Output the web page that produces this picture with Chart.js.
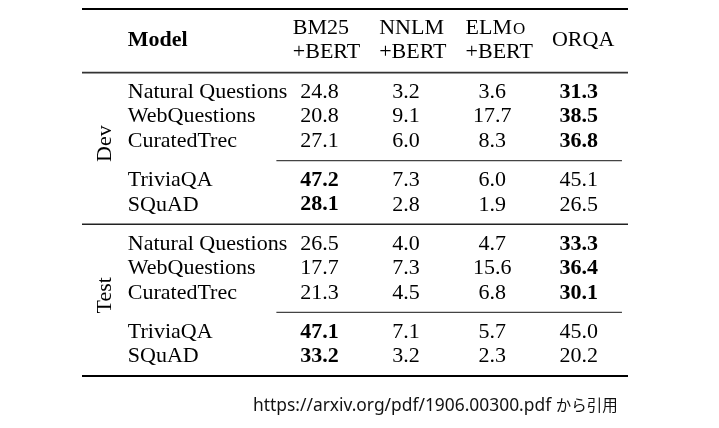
<!DOCTYPE html>
<html>
<head>
<meta charset="utf-8">
<script src="https://cdn.jsdelivr.net/npm/chart.js@4/dist/chart.umd.min.js"></script>
<style>
  html, body { margin: 0; padding: 0; background: #fff; }
  #wrap { position: relative; width: 719px; height: 428px; }
  #cap { position: absolute; left: 253px; top: 392px; font: 17.4px "Noto Sans", "Noto Sans CJK JP", sans-serif; color: #111; white-space: nowrap; }
  #cap span { font: 15.5px "Noto Sans CJK JP", sans-serif; }
</style>
</head>
<body>
<div id="wrap">
  <canvas id="c" width="719" height="428"></canvas>
  <div id="cap">https://arxiv.org/pdf/1906.00300.pdf <span>から引用</span></div>
</div>
<script>
// ---- data ----
const groups = ['Dev', 'Test'];
const tasks = ['Natural Questions', 'WebQuestions', 'CuratedTrec', 'TriviaQA', 'SQuAD'];
const modelHeader = ['Model'];
const modelLine1 = ['BM25', 'NNLM', 'ELMo', 'ORQA'];
const modelLine2 = ['+BERT', '+BERT', '+BERT', ''];
const bm25Dev  = [24.8, 20.8, 27.1, 47.2, 28.1];
const nnlmDev  = [3.2, 9.1, 6.0, 7.3, 2.8];
const elmoDev  = [3.6, 17.7, 8.3, 6.0, 1.9];
const orqaDev  = [31.3, 38.5, 36.8, 45.1, 26.5];
const bm25Test = [26.5, 17.7, 21.3, 47.1, 33.2];
const nnlmTest = [4.0, 7.3, 4.5, 7.1, 3.2];
const elmoTest = [4.7, 15.6, 6.8, 5.7, 2.3];
const orqaTest = [33.3, 36.4, 30.1, 45.0, 20.2];

const valuesByGroup = [
  [bm25Dev, nnlmDev, elmoDev, orqaDev],
  [bm25Test, nnlmTest, elmoTest, orqaTest]
];

// ---- layout (row/column units) ----
const BLOCK_GAP = 0.6;   // extra space where a rule separates blocks
const HALF = 0.8;        // rule distance from neighbouring row
function rowPosG(g, r) { return g * (tasks.length + 2 * BLOCK_GAP) + r + (r >= 3 ? BLOCK_GAP : 0); }

const SERIF = '"Liberation Serif", "Times New Roman", serif';

const datasets = [];
for (let c = 0; c < 4; c++) {
  const pts = [];
  for (let g = 0; g < groups.length; g++) {
    for (let r = 0; r < tasks.length; r++) {
      const rowVals = valuesByGroup[g].map(col => col[r]);
      const v = valuesByGroup[g][c][r];
      pts.push({ x: c, y: rowPosG(g, r), v: v, bold: v === Math.max(...rowVals) });
    }
  }
  datasets.push({ label: modelLine1[c], data: pts, pointRadius: 0, showLine: false });
}

const tablePlugin = {
  id: 'table',
  afterDatasetsDraw(chart) {
    const { ctx, scales: { x, y } } = chart;
    ctx.save();
    ctx.fillStyle = '#000';
    ctx.textBaseline = 'middle';
    // values
    chart.data.datasets.forEach((ds, di) => {
      const meta = chart.getDatasetMeta(di);
      meta.data.forEach((el, i) => {
        const p = ds.data[i];
        ctx.font = (p.bold ? 'bold ' : '') + '22px ' + SERIF;
        ctx.textAlign = 'center';
        ctx.fillText(p.v.toFixed(1), el.x, el.y);
      });
    });
    // header
    ctx.textAlign = 'left';
    ctx.font = 'bold 22px ' + SERIF;
    ctx.fillText(modelHeader[0], x.getPixelForValue(-2.22), y.getPixelForValue(-2.12));
    ctx.font = '22px ' + SERIF;
    modelLine1.forEach((t, c) => {
      const px = x.getPixelForValue(c - 0.31);
      if (modelLine2[c]) {
        if (t === 'ELMo') {
          ctx.fillText('ELM', px, y.getPixelForValue(-2.62));
          const w = ctx.measureText('ELM').width;
          ctx.font = '17px ' + SERIF;
          ctx.fillText('O', px + w + 1, y.getPixelForValue(-2.57));
          ctx.font = '22px ' + SERIF;
        } else {
          ctx.fillText(t, px, y.getPixelForValue(-2.62));
        }
        ctx.fillText(modelLine2[c], px, y.getPixelForValue(-1.64));
      } else {
        ctx.fillText(t, px, y.getPixelForValue(-2.12));
      }
    });
    // task labels
    for (let g = 0; g < groups.length; g++) {
      tasks.forEach((t, r) => {
        ctx.fillText(t, x.getPixelForValue(-2.22), y.getPixelForValue(rowPosG(g, r)));
      });
      // group label rotated
      const mid = (rowPosG(g, 0) + rowPosG(g, 4)) / 2 - 0.2;
      ctx.save();
      ctx.translate(x.getPixelForValue(-2.48), y.getPixelForValue(mid));
      ctx.rotate(-Math.PI / 2);
      ctx.textAlign = 'center';
      ctx.fillText(groups[g], 0, 0);
      ctx.restore();
    }
    // rules
    function hline(y0, x0, x1, w, col) {
      ctx.beginPath();
      ctx.strokeStyle = col;
      ctx.lineWidth = w;
      const py = y.getPixelForValue(y0);
      ctx.moveTo(x.getPixelForValue(x0), py);
      ctx.lineTo(x.getPixelForValue(x1), py);
      ctx.stroke();
    }
    const xmin = x.min, xmax = x.max;
    hline(-3.4, xmin, xmax, 2.2, '#000');                  // top rule
    hline(rowPosG(0, 0) - HALF, xmin, xmax, 1.6, '#333');  // header rule
    hline(rowPosG(0, 4) + HALF, xmin, xmax, 1.6, '#222');  // between groups
    hline(rowPosG(1, 4) + HALF, xmin, xmax, 2.2, '#000');  // bottom rule
    for (let g = 0; g < groups.length; g++) {
      hline(rowPosG(g, 2) + HALF, -0.5, 3.5, 1.2, '#444');
    }
    ctx.restore();
  }
};

new Chart(document.getElementById('c'), {
  type: 'scatter',
  data: { datasets },
  options: {
    responsive: false,
    animation: false,
    layout: { padding: { left: 82, right: 91, top: 9, bottom: 52 } },
    plugins: { legend: { display: false }, tooltip: { enabled: false } },
    scales: {
      x: { type: 'linear', min: -2.75, max: 3.57, display: false },
      y: { type: 'linear', min: -3.4, max: 11.6, reverse: true, display: false }
    }
  },
  plugins: [tablePlugin]
});
</script>
</body>
</html>
